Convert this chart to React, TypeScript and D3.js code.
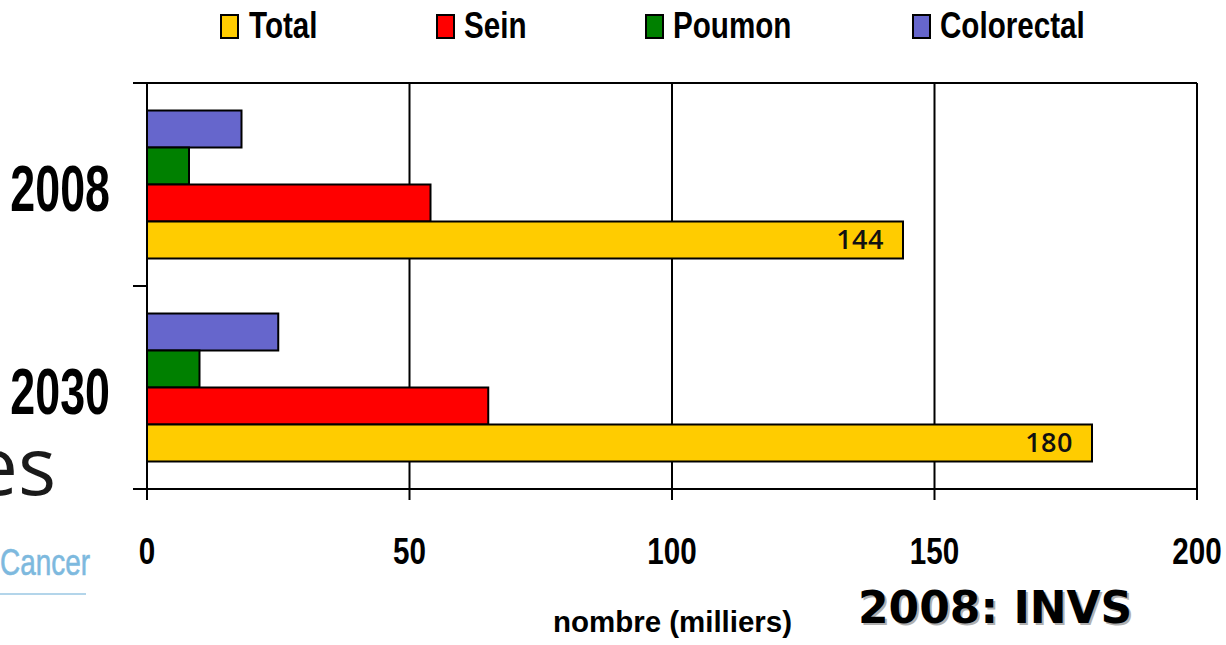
import React from "react";
import * as d3 from "d3";

const categories = ["2008", "2030"];
const seriesNames = ["Colorectal", "Poumon", "Sein", "Total"];
const totalValues = [144, 180];
const seinValues = [54, 65];
const poumonValues = [8, 10];
const colorectalValues = [18, 25];
const xTicks = [0, 50, 100, 150, 200];
const legendOrder = ["Total", "Sein", "Poumon", "Colorectal"];
const colors: Record<string, string> = {
  Total: "#FFCC00",
  Sein: "#FF0000",
  Poumon: "#008000",
  Colorectal: "#6666CC",
};

const W = 1226;
const H = 645;
const left = 147;
const right = 1197;
const top = 83;
const bottom = 489;

const FONT = "'Liberation Sans', Arial, sans-serif";

function Narrow({ x, y, sx, size, anchor = "start", children, fill = "#000", weight = "bold", family = FONT }: any) {
  return (
    <g transform={`translate(${x},${y}) scale(${sx},1)`}>
      <text x={0} y={0} fontFamily={family} fontWeight={weight} fontSize={size} textAnchor={anchor} fill={fill}>
        {children}
      </text>
    </g>
  );
}

export default function App() {
  const x = d3.scaleLinear().domain([0, 200]).range([left, right]);
  const y = d3.scaleBand<string>().domain(categories).range([top, bottom]).paddingInner(0.271).paddingOuter(0.1355);
  const yInner = d3.scaleBand<string>().domain(seriesNames).range([0, y.bandwidth()]);
  const step = y.step();
  const valuesBySeries: Record<string, number[]> = {
    Total: totalValues,
    Sein: seinValues,
    Poumon: poumonValues,
    Colorectal: colorectalValues,
  };

  const legendPos = [
    { sq: 221, tx: 249 },
    { sq: 437, tx: 464 },
    { sq: 646, tx: 673 },
    { sq: 913, tx: 940 },
  ];

  const boundaries = categories.map((_, i) => top + i * step).concat([bottom]);

  return (
    <svg width={W} height={H} style={{ position: "absolute", left: 0, top: 0, background: "#fff" }}>
      <rect x={0} y={0} width={W} height={H} fill="#fff" />
      {/* background slide text */}
      <text x={56} y={495} textAnchor="end" fontFamily="'Open Sans', sans-serif" fontSize={80} fill="#1a1a1a">
        es
      </text>
      <text x={0} y={575} fontFamily={FONT} fontSize={37} fill="#7DB9DE" stroke="#7DB9DE" strokeWidth={0.6} textLength={90} lengthAdjust="spacingAndGlyphs">
        Cancer
      </text>
      <line x1={0} x2={86} y1={594} y2={594} stroke="#B3D5EA" strokeWidth={2} />

      {/* gridlines and x ticks */}
      {xTicks.map((t) => (
        <line key={t} x1={x(t)} x2={x(t)} y1={top} y2={500} stroke="#000" strokeWidth={2} />
      ))}
      {/* top border and bottom axis */}
      <line x1={133} x2={right} y1={top} y2={top} stroke="#000" strokeWidth={2} />
      <line x1={133} x2={right} y1={bottom} y2={bottom} stroke="#000" strokeWidth={2} />
      {boundaries.map((b, i) => (
        <line key={i} x1={133} x2={left} y1={b} y2={b} stroke="#000" strokeWidth={2} />
      ))}

      {/* bars */}
      {categories.map((c, ci) => (
        <g key={c}>
          {seriesNames.map((s) => {
            const v = valuesBySeries[s][ci];
            const y0 = (y(c) as number) + (yInner(s) as number);
            return (
              <rect
                key={s}
                x={x(0)}
                y={y0}
                width={x(v) - x(0)}
                height={yInner.bandwidth()}
                fill={colors[s]}
                stroke="#000"
                strokeWidth={2}
              />
            );
          })}
          <text
            x={x(totalValues[ci]) - 19}
            y={(y(c) as number) + (yInner("Total") as number) + yInner.bandwidth() / 2 + 9}
            textAnchor="end"
            fontFamily="'Open Sans', sans-serif"
            fontWeight={600}
            fontSize={27}
            letterSpacing={0.5}
            fill="#111"
          >
            {totalValues[ci]}
          </text>
          <Narrow x={110} y={(y(c) as number) - (step - y.bandwidth()) / 2 + step / 2 + 26} sx={0.7} size={64} anchor="end">
            {c}
          </Narrow>
        </g>
      ))}

      {/* x tick labels */}
      {xTicks.map((t) => (
        <Narrow key={t} x={x(t)} y={564} sx={0.8} size={37} anchor="middle">
          {t}
        </Narrow>
      ))}

      {/* axis title */}
      <text x={553} y={632} fontFamily={FONT} fontWeight="bold" fontSize={30} textLength={239} lengthAdjust="spacingAndGlyphs">
        nombre (milliers)
      </text>

      {/* legend */}
      {legendOrder.map((s, i) => (
        <g key={s}>
          <rect x={legendPos[i].sq} y={15} width={17} height={23} fill={colors[s]} stroke="#000" strokeWidth={2} />
          <Narrow x={legendPos[i].tx} y={38} sx={0.8} size={37}>
            {s}
          </Narrow>
        </g>
      ))}

      {/* source */}
      <text x={860} y={625} fontFamily="'DejaVu Sans', Verdana, sans-serif" fontWeight="bold" fontSize={44} fill="#b0b0b0">
        2008: INVS
      </text>
      <text x={858} y={623} fontFamily="'DejaVu Sans', Verdana, sans-serif" fontWeight="bold" fontSize={44} fill="#000">
        2008: INVS
      </text>
    </svg>
  );
}
